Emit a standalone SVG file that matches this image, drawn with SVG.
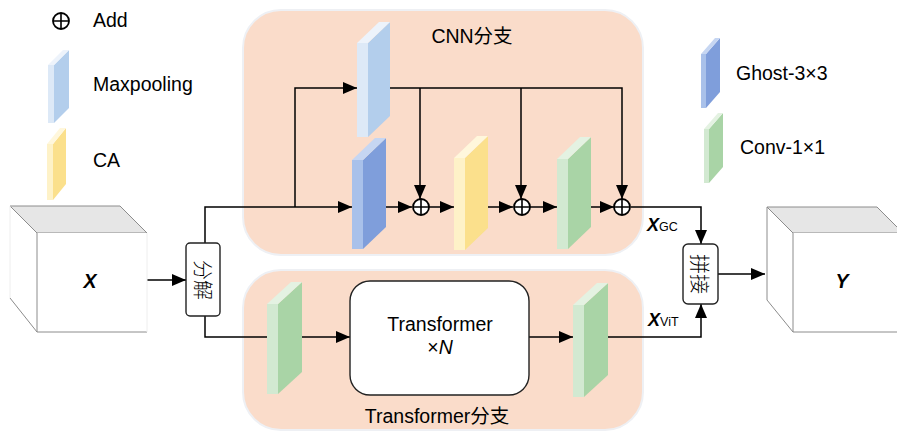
<svg xmlns="http://www.w3.org/2000/svg" width="897" height="432" viewBox="0 0 897 432">
<defs>
<marker id="ah" viewBox="0 0 14 12" refX="14" refY="6" markerWidth="14" markerHeight="12" markerUnits="userSpaceOnUse" orient="auto">
<path d="M0,0 L14,6 L0,12 Z" fill="#000"/>
</marker>
<style>
text{font-family:"Liberation Sans","Noto Sans CJK SC",sans-serif;fill:#000}
.lbl{font-size:19.5px}
.bi{font-weight:bold;font-style:italic}
.cjk{font-family:"Noto Sans CJK SC",sans-serif;font-weight:300;font-size:20px}
.branch{fill:#FADCCA;stroke:#EEF0F4;stroke-width:2}
.conn{fill:none;stroke:#000;stroke-width:1.5}
.box{fill:#fff;stroke:#222;stroke-width:1.4}
.add circle{fill:#fff;stroke:#000;stroke-width:1.8}
.add path{stroke:#000;stroke-width:1.6;fill:none}
.cube{stroke:#8c8c8c;stroke-width:1}
.mpL{fill:#DDE9F7}.mpF{fill:#B3CEEC}.mpT{fill:#EDF3FB}
.ghL{fill:#A9C1EA}.ghF{fill:#7F9EDB}.ghT{fill:#C6D6F2}
.caL{fill:#FEF2C8}.caF{fill:#FBE08C}.caT{fill:#FFF7DC}
.cvL{fill:#D2E9D1}.cvF{fill:#A9D4A6}.cvT{fill:#E4F2E2}
</style>
</defs>
<rect width="897" height="432" fill="#fff"/>

<g id="cnn-branch">
<rect class="branch" x="243" y="10" width="400" height="245" rx="38"/>
<text class="lbl" x="472" y="43" text-anchor="middle">CNN分支</text>
</g>
<g id="transformer-branch">
<rect class="branch" x="243" y="270" width="400" height="160" rx="38"/>
<text class="lbl" x="437" y="423" text-anchor="middle">Transformer分支</text>
</g>

<g id="legend">
<g id="legend-add" class="add">
<circle cx="61" cy="21" r="8"/>
<path d="M53,21 H69 M61,13 V29"/>
</g>
<text class="lbl" x="93" y="27">Add</text>
<g id="legend-maxpool">
<polygon class="mpL" points="48,65 54,65 54,123 48,123"/>
<polygon class="mpF" points="54,65 69,50 69,108 54,123"/>
<polygon class="mpT" points="48,65 63,50 69,50 54,65"/>
</g>
<text class="lbl" x="93" y="91">Maxpooling</text>
<g id="legend-ca">
<polygon class="caL" points="47,144 53,144 53,200 47,200"/>
<polygon class="caF" points="53,144 66,128 66,184 53,200"/>
<polygon class="caT" points="47,144 60,128 66,128 53,144"/>
</g>
<text class="lbl" x="93" y="167">CA</text>
<g id="legend-ghost">
<polygon class="ghL" points="701,54 706,54 706,108 701,108"/>
<polygon class="ghF" points="706,54 720,38 720,92 706,108"/>
<polygon class="ghT" points="701,54 715,38 720,38 706,54"/>
</g>
<text class="lbl" x="736" y="80">Ghost-3×3</text>
<g id="legend-conv">
<polygon class="cvL" points="704,129 709,129 709,183 704,183"/>
<polygon class="cvF" points="709,129 723,113 723,167 709,183"/>
<polygon class="cvT" points="704,129 718,113 723,113 709,129"/>
</g>
<text class="lbl" x="740" y="154">Conv-1×1</text>
</g>

<g id="connectors">
<path class="conn" d="M147,280 H186" marker-end="url(#ah)"/>
<path class="conn" d="M205,243 V207 H352" marker-end="url(#ah)"/>
<path class="conn" d="M295,207 V88 H357" marker-end="url(#ah)"/>
<path class="conn" d="M390,88 H622 V199" marker-end="url(#ah)"/>
<path class="conn" d="M420,88 V199" marker-end="url(#ah)"/>
<path class="conn" d="M521,88 V199" marker-end="url(#ah)"/>
<path class="conn" d="M386,207 H412" marker-end="url(#ah)"/>
<path class="conn" d="M429,207 H454" marker-end="url(#ah)"/>
<path class="conn" d="M488,207 H513" marker-end="url(#ah)"/>
<path class="conn" d="M530,207 H557" marker-end="url(#ah)"/>
<path class="conn" d="M591,207 H614" marker-end="url(#ah)"/>
<path class="conn" d="M631,207 H701 V244" marker-end="url(#ah)"/>
<path class="conn" d="M205,316 V337 H267"/>
<path class="conn" d="M302,337 H350" marker-end="url(#ah)"/>
<path class="conn" d="M529,337 H573" marker-end="url(#ah)"/>
<path class="conn" d="M608,337 H701 V304" marker-end="url(#ah)"/>
<path class="conn" d="M718,274 H765" marker-end="url(#ah)"/>
</g>

<g id="X">
<polygon points="10,206 120,206 147,233 37,233" fill="#E6E6E6" stroke="#8c8c8c"/>
<rect x="37" y="233" width="110" height="99" fill="#fff"/>
<path class="cube" d="M37,233 V332 H147 M10,298 L37,332" fill="none"/>
<path d="M10,206 V298 M147,233 V332" stroke="#eeeeee" fill="none"/>
<text class="lbl bi" x="90" y="288" text-anchor="middle">X</text>
</g>

<g id="split">
<rect class="box" x="186" y="243" width="34" height="73" rx="4"/>
<text class="cjk" transform="translate(203,280) rotate(90)" text-anchor="middle" dominant-baseline="central">分解</text>
</g>

<g id="maxpool">
<polygon class="mpL" points="357,43 368,43 368,137 357,137"/>
<polygon class="mpF" points="368,43 390,22 390,116 368,137"/>
<polygon class="mpT" points="357,43 379,22 390,22 368,43"/>
</g>
<g id="ghost">
<polygon class="ghL" points="352,160 363,160 363,249 352,249"/>
<polygon class="ghF" points="363,160 386,138 386,227 363,249"/>
<polygon class="ghT" points="352,160 375,138 386,138 363,160"/>
</g>
<g id="add1" class="add"><circle cx="421" cy="207" r="8"/><path d="M413,207 H429 M421,199 V215"/></g>
<g id="ca">
<polygon class="caL" points="454,158 465,158 465,250 454,250"/>
<polygon class="caF" points="465,158 488,136 488,228 465,250"/>
<polygon class="caT" points="454,158 477,136 488,136 465,158"/>
</g>
<g id="add2" class="add"><circle cx="522" cy="207" r="8"/><path d="M514,207 H530 M522,199 V215"/></g>
<g id="conv-cnn">
<polygon class="cvL" points="557,159 568,159 568,249 557,249"/>
<polygon class="cvF" points="568,159 591,137 591,227 568,249"/>
<polygon class="cvT" points="557,159 580,137 591,137 568,159"/>
</g>
<g id="add3" class="add"><circle cx="622" cy="207" r="8"/><path d="M614,207 H630 M622,199 V215"/></g>

<g id="label-xgc">
<text x="647" y="231"><tspan class="bi" font-size="18">X</tspan><tspan font-size="12.5">GC</tspan></text>
</g>
<g id="label-xvit">
<text x="648" y="326"><tspan class="bi" font-size="18">X</tspan><tspan font-size="12.5">ViT</tspan></text>
</g>

<g id="conv-t1">
<polygon class="cvL" points="267,304 278,304 278,394 267,394"/>
<polygon class="cvF" points="278,304 302,282 302,372 278,394"/>
<polygon class="cvT" points="267,304 291,282 302,282 278,304"/>
</g>
<g id="transformer">
<rect class="box" x="350" y="281" width="179" height="114" rx="20" stroke-width="1.6"/>
<text class="lbl" x="440" y="331" text-anchor="middle">Transformer</text>
<text class="lbl" x="440" y="354" text-anchor="middle">×<tspan font-style="italic">N</tspan></text>
</g>
<g id="conv-t2">
<polygon class="cvL" points="573,305 584,305 584,397 573,397"/>
<polygon class="cvF" points="584,305 608,283 608,375 584,397"/>
<polygon class="cvT" points="573,305 597,283 608,283 584,305"/>
</g>

<g id="concat">
<rect class="box" x="683" y="244" width="35" height="60" rx="5"/>
<text class="cjk" transform="translate(700.5,274) rotate(90)" text-anchor="middle" dominant-baseline="central">拼接</text>
</g>

<g id="Y">
<polygon points="767,207 877,207 903,233 793,233" fill="#E6E6E6" stroke="#8c8c8c"/>
<rect x="793" y="233" width="110" height="99" fill="#fff"/>
<path class="cube" d="M767,207 V300 L793,332 M793,233 V332 H903" fill="none"/>
<text class="lbl bi" x="842" y="288" text-anchor="middle">Y</text>
</g>
</svg>
